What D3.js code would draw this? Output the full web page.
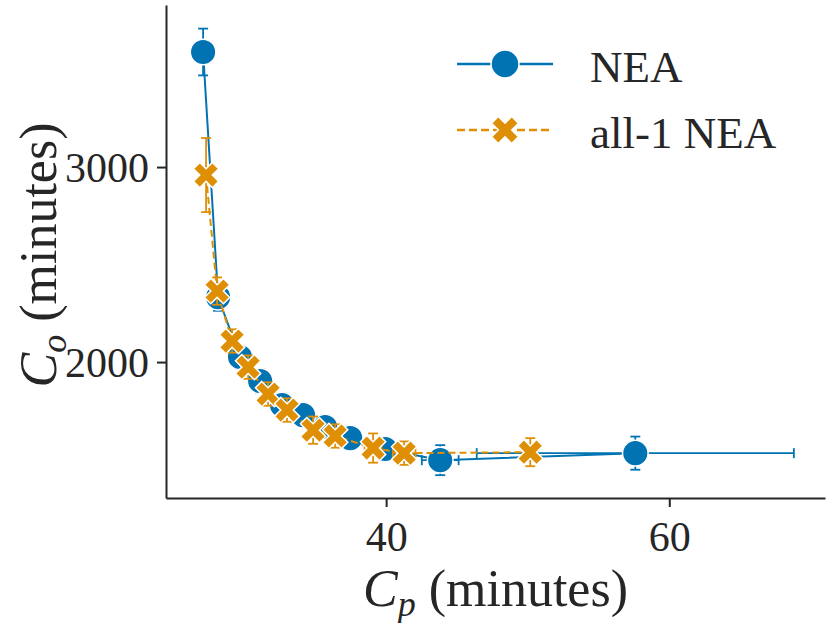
<!DOCTYPE html>
<html>
<head>
<meta charset="utf-8">
<script src="https://cdn.jsdelivr.net/npm/d3@7"></script>
<style>
  body { margin: 0; background: #fff; }
  text { font-family: "Liberation Serif", "DejaVu Serif", serif; fill: #262626; }
</style>
</head>
<body>
<div id="chart"></div>
<script>
// NEA series
var neaCp    = [27.07, 28.13, 29.68, 31.10, 32.65, 34.13, 35.69, 37.46, 39.93, 43.82, 57.60];
var neaCo    = [3590, 2333, 2026, 1903, 1779, 1728, 1667, 1610, 1554, 1497, 1533];
var neaCpErr = [0.1, 0.2, 0.2, 0.2, 0.3, 0.3, 0.3, 0.4, 0.5, 1.3, 11.2];
var neaCoErr = [120, 70, 60, 60, 60, 60, 60, 60, 60, 77, 85];

// all-1 NEA series
var allCp    = [27.28, 28.06, 29.12, 30.25, 31.66, 33.00, 34.84, 36.40, 39.08, 41.27, 50.18];
var allCo    = [2959, 2364, 2108, 1974, 1836, 1754, 1651, 1621, 1559, 1533, 1538];
var allCpErr = [0.1, 0.2, 0.2, 0.2, 0.3, 0.3, 0.3, 0.4, 0.6, 0.8, 0.5];
var allCoErr = [190, 70, 60, 60, 60, 60, 70, 60, 75, 60, 72];

var xTicks = [40, 60];
var yTicks = [2000, 3000];
var seriesNames = ["NEA", "all-1 NEA"];

var blue = "#0173b2", orange = "#de8f05";

var W = 830, H = 623;
var margin = {left: 166, right: 5, top: 5, bottom: 125};

var svg = d3.select("#chart").append("svg")
    .attr("width", W)
    .attr("height", H);

var x = d3.scaleLinear().domain([24.45, 71.0]).range([margin.left, W - margin.right]);
var y = d3.scaleLinear().domain([1303, 3831]).range([H - margin.bottom, margin.top]);

function zip(cp, co, cpe, coe){
    return cp.map(function(d, i){ return {x: d, y: co[i], xe: cpe[i], ye: coe[i]}; });
}
var nea = zip(neaCp, neaCo, neaCpErr, neaCoErr);
var all1 = zip(allCp, allCo, allCpErr, allCoErr);

// axes
var xAxis = svg.append("g")
    .attr("transform", "translate(0," + (H - margin.bottom) + ")")
    .call(d3.axisBottom(x).tickValues(xTicks).tickSizeInner(9).tickSizeOuter(0).tickPadding(8).tickFormat(d3.format("d")));
var yAxis = svg.append("g")
    .attr("transform", "translate(" + margin.left + ",0)")
    .call(d3.axisLeft(y).tickValues(yTicks).tickSizeInner(9).tickSizeOuter(0).tickPadding(8).tickFormat(d3.format("d")));

[xAxis, yAxis].forEach(function(g){
    g.select(".domain").attr("stroke", "#262626").attr("stroke-width", 2);
    g.selectAll(".tick line").attr("stroke", "#262626").attr("stroke-width", 2);
    g.selectAll(".tick text").attr("font-size", 42).attr("fill", "#262626")
        .style("font-family", "Liberation Serif, serif");
});
xAxis.selectAll(".tick text").attr("dy", "0.85em");
yAxis.selectAll(".tick text").attr("dy", "0.34em");

// axis labels
var xl = svg.append("text")
    .attr("x", (margin.left + W - margin.right) / 2)
    .attr("y", 606)
    .attr("text-anchor", "middle")
    .attr("font-size", 52);
xl.append("tspan").attr("font-style", "italic").text("C");
xl.append("tspan").attr("font-style", "italic").attr("font-size", 36).attr("dy", 10).text("p");
xl.append("tspan").attr("dy", -10).text(" (minutes)");

var yl = svg.append("text")
    .attr("transform", "translate(56," + 255 + ") rotate(-90)")
    .attr("text-anchor", "middle")
    .attr("font-size", 52);
yl.append("tspan").attr("font-style", "italic").text("C");
yl.append("tspan").attr("font-style", "italic").attr("font-size", 36).attr("dy", 10).text("o");
yl.append("tspan").attr("dy", -10).text(" (minutes)");

var line = d3.line().x(function(d){ return x(d.x); }).y(function(d){ return y(d.y); });
var crossPath = d3.symbol().type(d3.symbolCross).size(400)();
var crossLegend = d3.symbol().type(d3.symbolCross).size(450)();

function drawErrors(data, color){
    var g = svg.append("g").attr("stroke", color).attr("stroke-width", 1.8).attr("fill", "none");
    var cap = 5;
    data.forEach(function(d){
        var cx = x(d.x), cy = y(d.y);
        var y0 = y(d.y - d.ye), y1 = y(d.y + d.ye);
        var x0 = x(d.x - d.xe), x1 = x(d.x + d.xe);
        g.append("line").attr("x1", cx).attr("x2", cx).attr("y1", y0).attr("y2", y1);
        g.append("line").attr("x1", cx - cap).attr("x2", cx + cap).attr("y1", y0).attr("y2", y0);
        g.append("line").attr("x1", cx - cap).attr("x2", cx + cap).attr("y1", y1).attr("y2", y1);
        g.append("line").attr("x1", x0).attr("x2", x1).attr("y1", cy).attr("y2", cy);
        g.append("line").attr("x1", x0).attr("x2", x0).attr("y1", cy - cap).attr("y2", cy + cap);
        g.append("line").attr("x1", x1).attr("x2", x1).attr("y1", cy - cap).attr("y2", cy + cap);
    });
}

// NEA
drawErrors(nea, blue);
svg.append("path").datum(nea)
    .attr("d", line)
    .attr("fill", "none")
    .attr("stroke", blue)
    .attr("stroke-width", 2);
svg.selectAll(".nea").data(nea).enter()
    .append("circle")
    .attr("class", "nea")
    .attr("cx", function(d){ return x(d.x); })
    .attr("cy", function(d){ return y(d.y); })
    .attr("r", 12.8)
    .attr("fill", blue)
    .attr("stroke", "#fff")
    .attr("stroke-width", 1.5);

// all-1 NEA
drawErrors(all1, orange);
svg.append("path").datum(all1)
    .attr("d", line)
    .attr("fill", "none")
    .attr("stroke", orange)
    .attr("stroke-width", 2)
    .attr("stroke-dasharray", "7,4");
svg.selectAll(".all1").data(all1).enter()
    .append("path")
    .attr("class", "all1")
    .attr("d", crossPath)
    .attr("transform", function(d){ return "translate(" + x(d.x) + "," + y(d.y) + ") rotate(45)"; })
    .attr("fill", orange)
    .attr("stroke", "#fff")
    .attr("stroke-width", 1.5);

// legend
var leg = svg.append("g");
leg.append("line").attr("x1", 457).attr("x2", 553).attr("y1", 64).attr("y2", 64)
    .attr("stroke", blue).attr("stroke-width", 2.5);
leg.append("circle").attr("cx", 505).attr("cy", 64).attr("r", 14)
    .attr("fill", blue).attr("stroke", "#fff").attr("stroke-width", 1.5);
leg.append("text").attr("x", 590).attr("y", 82).attr("font-size", 45).text(seriesNames[0]);

leg.append("line").attr("x1", 457).attr("x2", 553).attr("y1", 130).attr("y2", 130)
    .attr("stroke", orange).attr("stroke-width", 2.5).attr("stroke-dasharray", "8,4");
leg.append("path").attr("d", crossLegend)
    .attr("transform", "translate(505,130) rotate(45)")
    .attr("fill", orange).attr("stroke", "#fff").attr("stroke-width", 1.5);
leg.append("text").attr("x", 590).attr("y", 148).attr("font-size", 45).text(seriesNames[1]);
</script>
</body>
</html>
